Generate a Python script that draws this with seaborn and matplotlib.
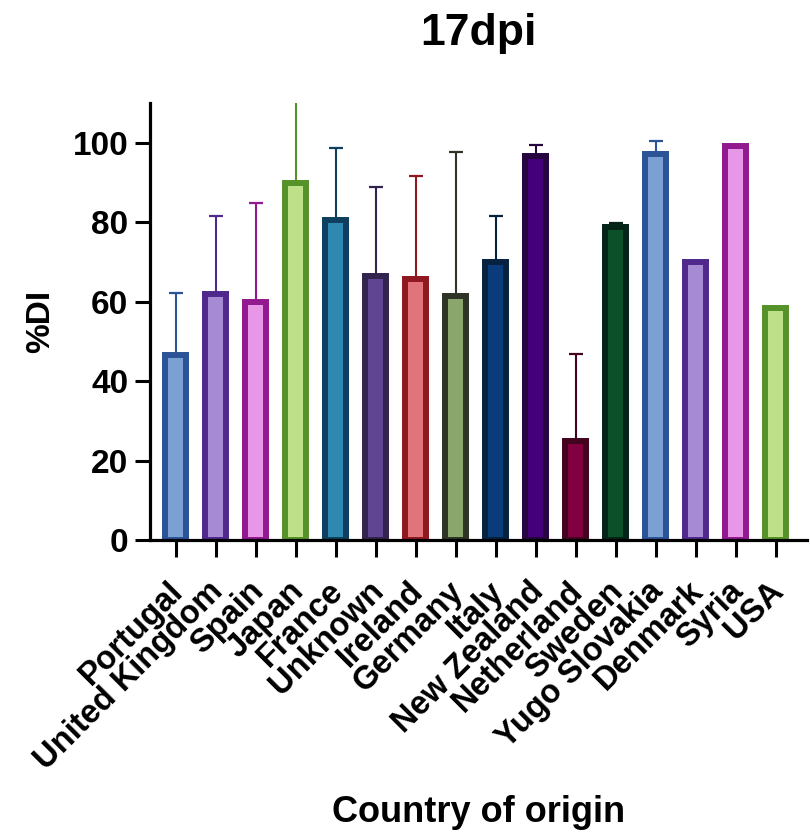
import numpy as np
import pandas as pd
import matplotlib
matplotlib.use("Agg")
import matplotlib.pyplot as plt
import matplotlib.transforms as mtransforms
import seaborn as sns

countries = ["Portugal", "United Kingdom", "Spain", "Japan", "France", "Unknown",
             "Ireland", "Germany", "Italy", "New Zealand", "Netherland", "Sweden",
             "Yugo Slovakia", "Denmark", "Syria", "USA"]
values = [46.5, 62.0, 60.0, 90.0, 80.5, 66.5, 65.7, 61.5, 70.0, 96.8, 25.0, 78.7,
          97.3, 70.0, 99.3, 58.4]
errors = [15.7, 19.6, 24.8, 21.0, 18.2, 22.5, 25.9, 36.1, 11.6, 2.7, 21.8, 1.2,
          3.2, 0.0, 0.0, 0.0]
fill_colors = ["#7BA0D4", "#A68BD4", "#E896E8", "#BDE088", "#2E88B0", "#604592",
               "#E0747A", "#8AA66C", "#0A3C7C", "#44007A", "#800040", "#0C502A",
               "#7BA0D4", "#A68BD4", "#E896E8", "#BDE088"]
edge_colors = ["#2A5496", "#4F2A8C", "#921A8E", "#56922A", "#0E3F5E", "#33244E",
               "#901820", "#2E3426", "#062240", "#26063E", "#440420", "#032416",
               "#2A5496", "#4F2A8C", "#921A8E", "#56922A"]

sns.set_style("ticks")
plt.rcParams["font.family"] = ["Liberation Sans", "DejaVu Sans"]
plt.rcParams["font.weight"] = "bold"
plt.rcParams["text.color"] = "black"
plt.rcParams["axes.labelcolor"] = "black"
plt.rcParams["xtick.color"] = "black"
plt.rcParams["ytick.color"] = "black"

df = pd.DataFrame({"country": countries, "value": values})

fig = plt.figure(figsize=(8.1, 8.32), dpi=100)
ax = fig.add_axes([0.185, 0.351, 0.811, 0.525])

sns.barplot(data=df, x="country", y="value", hue="country", palette=fill_colors,
            order=countries, hue_order=countries, width=0.525, legend=False,
            saturation=1, linewidth=4.3, ax=ax, zorder=2)
for patch, ec in zip(ax.patches, edge_colors):
    patch.set_edgecolor(ec)

xs = np.arange(len(countries))
for x, v, e, ec in zip(xs, values, errors, edge_colors):
    if e > 0:
        ax.errorbar([x], [v], yerr=[[0], [e]], fmt="none", ecolor=ec,
                    elinewidth=1.5, capsize=4.7, capthick=1.6, zorder=1)

ax.set_ylim(0, 110)
ax.set_xlim(-0.65, 15.78)
ax.set_yticks([0, 20, 40, 60, 80, 100])
ax.set_xticks(xs)
ax.set_xticklabels(countries, rotation=45, ha="right", rotation_mode="anchor",
                   fontsize=23.5, fontweight="bold", color="black")
ax.tick_params(axis="y", labelsize=24, width=2.2, length=10.5, pad=5, colors="black")
ax.tick_params(axis="x", width=2.2, length=12, pad=5, colors="black")
for lab in ax.get_yticklabels():
    lab.set_fontweight("bold")

offset = mtransforms.ScaledTranslation(-8 / 100, -12 / 100, fig.dpi_scale_trans)
for lab in ax.get_xticklabels():
    lab.set_transform(lab.get_transform() + offset)

for s in ["left", "bottom"]:
    ax.spines[s].set_linewidth(2.3)
    ax.spines[s].set_color("black")
sns.despine(ax=ax)

ax.set_ylabel("%DI", fontsize=24, fontweight="bold", labelpad=12, color="black")
ax.set_xlabel("Country of origin", fontsize=26, fontweight="bold", color="black")
ax.xaxis.set_label_coords(0.5, -0.585)
ax.set_title("17dpi", fontsize=32, fontweight="bold", pad=42, color="black")

fig.savefig("out.png", dpi=100)
